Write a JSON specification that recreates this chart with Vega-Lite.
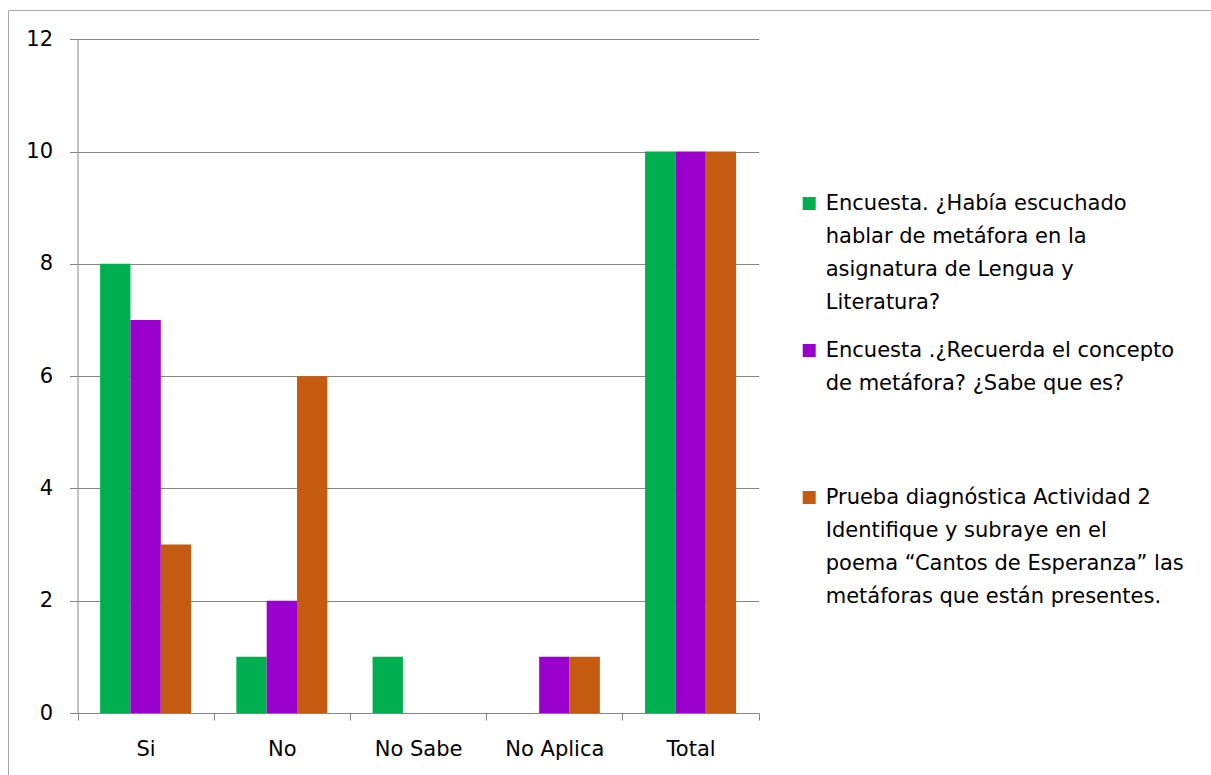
{
  "$schema": "https://vega.github.io/schema/vega-lite/v6.json",
  "width": 1203,
  "height": 765,
  "autosize": {"type": "none"},
  "padding": {"left": 8, "top": 10, "right": 0, "bottom": 0},
  "background": "white",
  "config": {
    "view": {"stroke": "#a6a6a6", "strokeWidth": 1},
    "font": "DejaVu Sans",
    "style": {"guide-label": {"lineHeight": 33}}
  },
  "data": {
    "values": [
      {"categoria": "Si", "serie": "Encuesta. ¿Había escuchado hablar de metáfora en la asignatura de Lengua y Literatura?", "valor": 8},
      {"categoria": "Si", "serie": "Encuesta .¿Recuerda el concepto de metáfora? ¿Sabe que es?", "valor": 7},
      {"categoria": "Si", "serie": "Prueba diagnóstica Actividad 2 Identifique y subraye  en el poema “Cantos de Esperanza” las metáforas que están presentes.", "valor": 3},
      {"categoria": "No", "serie": "Encuesta. ¿Había escuchado hablar de metáfora en la asignatura de Lengua y Literatura?", "valor": 1},
      {"categoria": "No", "serie": "Encuesta .¿Recuerda el concepto de metáfora? ¿Sabe que es?", "valor": 2},
      {"categoria": "No", "serie": "Prueba diagnóstica Actividad 2 Identifique y subraye  en el poema “Cantos de Esperanza” las metáforas que están presentes.", "valor": 6},
      {"categoria": "No Sabe", "serie": "Encuesta. ¿Había escuchado hablar de metáfora en la asignatura de Lengua y Literatura?", "valor": 1},
      {"categoria": "No Sabe", "serie": "Encuesta .¿Recuerda el concepto de metáfora? ¿Sabe que es?", "valor": 0},
      {"categoria": "No Sabe", "serie": "Prueba diagnóstica Actividad 2 Identifique y subraye  en el poema “Cantos de Esperanza” las metáforas que están presentes.", "valor": 0},
      {"categoria": "No Aplica", "serie": "Encuesta. ¿Había escuchado hablar de metáfora en la asignatura de Lengua y Literatura?", "valor": 0},
      {"categoria": "No Aplica", "serie": "Encuesta .¿Recuerda el concepto de metáfora? ¿Sabe que es?", "valor": 1},
      {"categoria": "No Aplica", "serie": "Prueba diagnóstica Actividad 2 Identifique y subraye  en el poema “Cantos de Esperanza” las metáforas que están presentes.", "valor": 1},
      {"categoria": "Total", "serie": "Encuesta. ¿Había escuchado hablar de metáfora en la asignatura de Lengua y Literatura?", "valor": 10},
      {"categoria": "Total", "serie": "Encuesta .¿Recuerda el concepto de metáfora? ¿Sabe que es?", "valor": 10},
      {"categoria": "Total", "serie": "Prueba diagnóstica Actividad 2 Identifique y subraye  en el poema “Cantos de Esperanza” las metáforas que están presentes.", "valor": 10}
    ]
  },
  "mark": {"type": "bar"},
  "encoding": {
    "x": {
      "field": "categoria",
      "type": "nominal",
      "sort": ["Si", "No", "No Sabe", "No Aplica", "Total"],
      "scale": {"range": [69.5, 750.7], "paddingInner": 0, "paddingOuter": 0},
      "axis": {
        "title": null,
        "orient": "bottom",
        "offset": -62,
        "tickBand": "extent",
        "labelAngle": 0,
        "labelFontSize": 21,
        "labelColor": "#000000",
        "labelPadding": 18,
        "tickSize": 7,
        "tickColor": "#868686",
        "domainColor": "#868686",
        "grid": false
      }
    },
    "xOffset": {
      "field": "serie",
      "type": "nominal",
      "sort": [
        "Encuesta. ¿Había escuchado hablar de metáfora en la asignatura de Lengua y Literatura?",
        "Encuesta .¿Recuerda el concepto de metáfora? ¿Sabe que es?",
        "Prueba diagnóstica Actividad 2 Identifique y subraye  en el poema “Cantos de Esperanza” las metáforas que están presentes."
      ],
      "scale": {"paddingInner": 0, "paddingOuter": 0.745}
    },
    "y": {
      "field": "valor",
      "type": "quantitative",
      "scale": {"domain": [0, 12], "range": [703, 29.3], "nice": false, "zero": true},
      "axis": {
        "title": null,
        "orient": "left",
        "offset": -69.5,
        "values": [0, 2, 4, 6, 8, 10, 12],
        "labelFontSize": 21,
        "labelColor": "#000000",
        "labelPadding": 17,
        "tickSize": 8,
        "tickColor": "#868686",
        "domainColor": "#868686",
        "grid": true,
        "gridColor": "#868686",
        "gridOpacity": 1,
        "gridWidth": 1
      }
    },
    "color": {
      "field": "serie",
      "type": "nominal",
      "scale": {
        "domain": [
          "Encuesta. ¿Había escuchado hablar de metáfora en la asignatura de Lengua y Literatura?",
          "Encuesta .¿Recuerda el concepto de metáfora? ¿Sabe que es?",
          "Prueba diagnóstica Actividad 2 Identifique y subraye  en el poema “Cantos de Esperanza” las metáforas que están presentes."
        ],
        "range": ["#00B050", "#9900CC", "#C55A11"]
      },
      "legend": {
        "orient": "none",
        "legendX": 790.7,
        "legendY": 183,
        "title": null,
        "padding": 0,
        "symbolType": "square",
        "symbolSize": 169,
        "symbolStrokeWidth": 0,
        "symbolOpacity": 1,
        "labelFontSize": 21,
        "labelColor": "#000000",
        "labelLimit": 440,
        "labelOffset": 6,
        "rowPadding": 26,
        "labelExpr": "indexof(datum.label, 'Había') >= 0 ? ['Encuesta. ¿Había escuchado', 'hablar de metáfora en la', 'asignatura de Lengua y', 'Literatura?'] : indexof(datum.label, 'Recuerda') >= 0 ? ['Encuesta .¿Recuerda el concepto', 'de metáfora? ¿Sabe que es?', '', ''] : ['Prueba diagnóstica Actividad 2', 'Identifique y subraye  en el', 'poema “Cantos de Esperanza” las', 'metáforas que están presentes.']"
      }
    }
  }
}
